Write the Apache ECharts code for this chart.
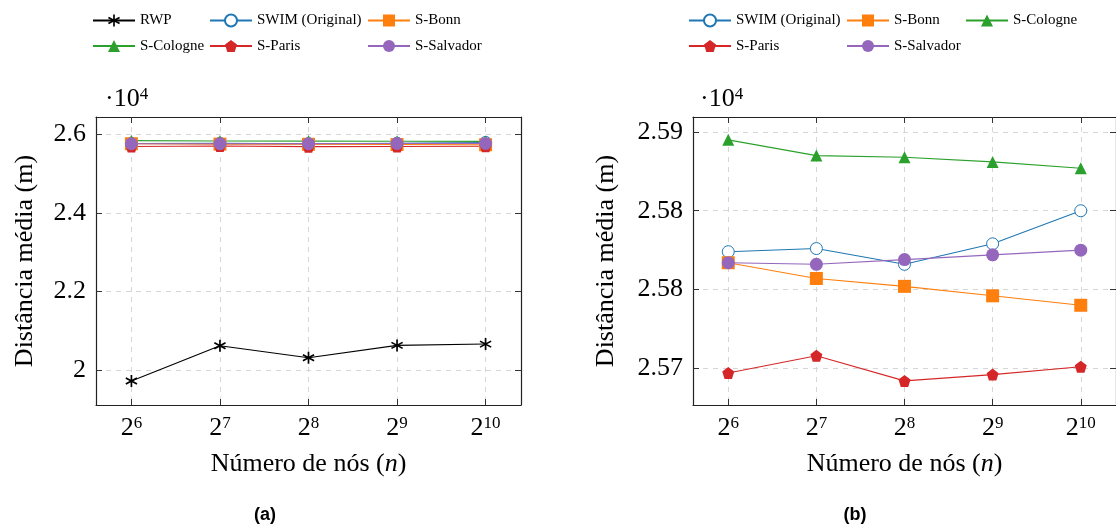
<!DOCTYPE html>
<html>
<head>
<meta charset="utf-8">
<script src="https://cdn.jsdelivr.net/npm/echarts@6/dist/echarts.min.js"></script>
<style>
    html, body { margin: 0; background: #fff; }
    #chart { width: 1116px; height: 529px; }
</style>
</head>
<body>
<div id="chart"></div>
<script>

// número de nós = 2^exponent
const exponents = [6, 7, 8, 9, 10];

// distância média (m)
const rwp = [19720, 20618, 20313, 20628, 20662];
const swim = [25774, 25776, 25766, 25779, 25800];
const bonn = [25767, 25757, 25752, 25746, 25740];
const cologne = [25845, 25835, 25834, 25831, 25827];
const paris = [25697, 25708, 25692, 25696, 25701];
const salvador = [25767, 25766, 25769, 25772, 25775];

const leftYTicks = [20000, 22000, 24000, 26000];
const leftYLabels = ['2', '2.2', '2.4', '2.6'];
const rightYTicks = [25700, 25750, 25800, 25850];
const rightYLabels = ['2.57', '2.58', '2.58', '2.59'];

const SERIF = 'Liberation Serif';
const FS = 26;

// asterisk mark: thin bars through the centre
const bar = (deg) => {
    const a = deg * Math.PI / 180;
    const pts = [[-0.13, -1], [0.13, -1], [0.13, 1], [-0.13, 1]].map(([x, y]) => [
        (x * Math.cos(a) - y * Math.sin(a)).toFixed(3),
        (x * Math.sin(a) + y * Math.cos(a)).toFixed(3),
    ]);
    return 'M' + pts.map((p) => p.join(',')).join(' L') + ' Z';
};
const asterisk = 'path://' + [0, 60, 120].map(bar).join(' ');
const pentagon = 'path://M0,-1 L0.951,-0.309 L0.588,0.809 L-0.588,0.809 L-0.951,-0.309 Z';

const looks = {
    'RWP': { color: '#000000', symbol: asterisk, size: 12, values: rwp },
    'SWIM (Original)': { color: '#1f77b4', symbol: 'circle', size: 12, values: swim, hollow: true },
    'S-Bonn': { color: '#ff7f0e', symbol: 'rect', size: 13, values: bonn },
    'S-Cologne': { color: '#2ca02c', symbol: 'triangle', size: 12, values: cologne },
    'S-Paris': { color: '#d62728', symbol: pentagon, size: 12, values: paris },
    'S-Salvador': { color: '#9467bd', symbol: 'circle', size: 13, values: salvador },
};

const makeSeries = (name, axisIndex) => {
    const s = looks[name];
    return {
        name,
        type: 'line',
        xAxisIndex: axisIndex,
        yAxisIndex: axisIndex,
        data: exponents.map((e, i) => [e, s.values[i]]),
        symbol: s.symbol,
        symbolSize: s.size,
        showAllSymbol: true,
        color: s.color,
        lineStyle: { color: s.color, width: 1.1 },
        itemStyle: s.hollow
            ? { color: '#ffffff', borderColor: s.color, borderWidth: 1 }
            : { color: s.color, borderWidth: 0 },
        emphasis: { disabled: true },
        z: 3,
    };
};

const tickStyle = { color: '#333', width: 1 };
const frame = { show: true, lineStyle: { color: '#222', width: 1.2 } };
const dashed = { show: true, lineStyle: { color: '#d6d6d6', type: [5, 5], width: 1 } };
const supRich = {
    b: { fontSize: FS, fontFamily: SERIF, color: '#000', verticalAlign: 'bottom' },
    s: { fontSize: 17, fontFamily: SERIF, color: '#000', verticalAlign: 'top' },
};

const xMain = (grid) => ({
    type: 'value',
    gridIndex: grid,
    position: 'bottom',
    min: 5.6,
    max: 10.4,
    axisLine: frame,
    axisTick: { show: true, inside: true, length: 6, customValues: exponents, lineStyle: tickStyle },
    splitLine: dashed,
    axisLabel: {
        customValues: exponents,
        margin: 10,
        formatter: (v) => `{b|2}{s|${v}}`,
        rich: supRich,
    },
    name: 'Número de nós ({i|n})',
    nameLocation: 'middle',
    nameGap: 46,
    nameTextStyle: {
        fontSize: FS, fontFamily: SERIF, color: '#000',
        rich: { i: { fontSize: FS, fontFamily: SERIF, fontStyle: 'italic', color: '#000' } },
    },
});

const xTop = (grid) => ({
    type: 'value',
    gridIndex: grid,
    position: 'top',
    min: 5.6,
    max: 10.4,
    axisLine: frame,
    axisTick: { show: true, inside: true, length: 6, customValues: exponents, lineStyle: tickStyle },
    splitLine: { show: false },
    axisLabel: { show: false },
});

const yMain = (grid, min, max, ticks, labels, gap) => ({
    type: 'value',
    gridIndex: grid,
    position: 'left',
    min,
    max,
    axisLine: frame,
    axisTick: { show: true, inside: true, length: 6, customValues: ticks, lineStyle: tickStyle },
    splitLine: dashed,
    axisLabel: {
        customValues: ticks,
        margin: 10,
        fontSize: FS,
        fontFamily: SERIF,
        color: '#000',
        formatter: (v) => labels[ticks.findIndex((t) => Math.abs(t - v) < 1e-6)],
    },
    name: 'Distância média (m)',
    nameLocation: 'middle',
    nameRotate: 90,
    nameGap: gap,
    nameTextStyle: { fontSize: FS, fontFamily: SERIF, color: '#000' },
});

const yRight = (grid, min, max, ticks) => ({
    type: 'value',
    gridIndex: grid,
    position: 'right',
    min,
    max,
    axisLine: frame,
    axisTick: { show: true, inside: true, length: 6, customValues: ticks, lineStyle: tickStyle },
    splitLine: { show: false },
    axisLabel: { show: false },
});

const legendCol = (names, left) => ({
    data: names,
    orient: 'vertical',
    left,
    top: 13,
    padding: 0,
    itemWidth: 42,
    itemHeight: 15,
    itemGap: 10.5,
    selectedMode: false,
    textStyle: { fontSize: 15, fontFamily: SERIF, color: '#000' },
});

const exponentLabel = (x) => ({
    type: 'text',
    x,
    y: 86,
    style: {
        text: '{b|·10}{s|4}',
        rich: supRich,
    },
});

const caption = (text, x) => ({
    type: 'text',
    x,
    y: 515,
    style: {
        text,
        align: 'center',
        verticalAlign: 'middle',
        font: 'bold 18px "Liberation Sans"',
        fill: '#000',
    },
});

const chart = echarts.init(document.getElementById('chart'));

chart.setOption({
    animation: false,
    backgroundColor: '#fff',
    grid: [
        { left: 96, top: 117, width: 425, height: 288 },
        { left: 693, top: 117, width: 424, height: 288 },
    ],
    xAxis: [xMain(0), xTop(0), xMain(1), xTop(1)],
    yAxis: [
        yMain(0, 19109, 26448, leftYTicks, leftYLabels, 58),
        yRight(0, 19109, 26448, leftYTicks),
        yMain(1, 25676.7, 25859.5, rightYTicks, rightYLabels, 74),
        yRight(1, 25676.7, 25859.5, rightYTicks),
    ],
    legend: [
        legendCol(['RWP', 'S-Cologne'], 92),
        legendCol(['SWIM (Original)', 'S-Paris'], 209),
        legendCol(['S-Bonn', 'S-Salvador'], 367),
        legendCol(['SWIM (Original)', 'S-Paris'], 688),
        legendCol(['S-Bonn', 'S-Salvador'], 846),
        legendCol(['S-Cologne'], 965),
    ],
    graphic: [
        exponentLabel(105),
        exponentLabel(700),
        caption('(a)', 265),
        caption('(b)', 855),
    ],
    series: [
        makeSeries('RWP', 0),
        makeSeries('SWIM (Original)', 0),
        makeSeries('S-Bonn', 0),
        makeSeries('S-Cologne', 0),
        makeSeries('S-Paris', 0),
        makeSeries('S-Salvador', 0),
        makeSeries('SWIM (Original)', 2),
        makeSeries('S-Bonn', 2),
        makeSeries('S-Cologne', 2),
        makeSeries('S-Paris', 2),
        makeSeries('S-Salvador', 2),
    ],
});

</script>
</body>
</html>
